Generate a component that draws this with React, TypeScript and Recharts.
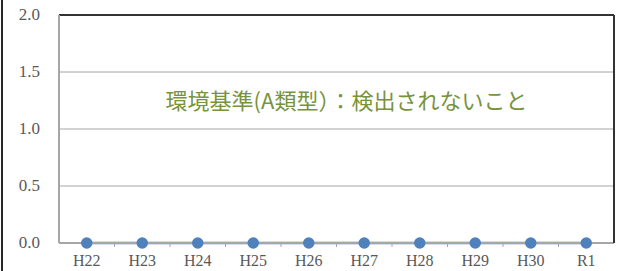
import { LineChart, Line, XAxis, YAxis, CartesianGrid, ReferenceLine } from 'recharts'

// 年度と検出値（すべて不検出 = 0）
const NENDO = ['H22', 'H23', 'H24', 'H25', 'H26', 'H27', 'H28', 'H29', 'H30', 'R1']
const KENSHUTSU = [0, 0, 0, 0, 0, 0, 0, 0, 0, 0]
const Y_TICKS = [0, 0.5, 1.0, 1.5, 2.0]
const KIJUN_TEXT = '環境基準(A類型）：検出されないこと'

const data = NENDO.map((n, i) => ({ nendo: n, value: KENSHUTSU[i] }))

const W = 620
const H = 271
const SERIF = '"Liberation Serif", "DejaVu Serif", serif'

// カテゴリ境界の内向き目盛り付きラベル
function XTick(props: any) {
  const { x, y, payload, index } = props
  const band = (W - 59 - 6) / NENDO.length
  return (
    <g>
      <text x={x} y={y + 15} textAnchor="middle" fontFamily={SERIF} fontSize={16} fill="#595959">
        {payload.value}
      </text>
      {index < NENDO.length - 1 && (
        <line x1={x + band / 2} x2={x + band / 2} y1={y - 9} y2={y - 4} stroke="#a6a6a6" />
      )}
    </g>
  )
}

function YTick(props: any) {
  const { x, y, payload } = props
  return (
    <text x={x} y={y} dy={5} textAnchor="end" fontFamily={SERIF} fontSize={17} fontWeight="normal" fill="#595959">
      {Number(payload.value).toFixed(1)}
    </text>
  )
}

export default function App() {
  return (
    <div style={{ position: 'absolute', left: 0, top: 0, width: W, height: H, background: '#fff' }}>
      <div style={{ position: 'absolute', left: 1, top: 0, width: 2, height: H, background: '#262626' }} />
      <LineChart width={W} height={H} data={data} margin={{ top: 14, right: 5, bottom: 0, left: 0 }}>
        <CartesianGrid vertical={false} stroke="#a6a6a6" />
        <XAxis dataKey="nendo" scale="band" height={28} tickLine={false} axisLine={{ stroke: '#a6a6a6', strokeWidth: 2 }} tick={<XTick />} interval={0} />
        <XAxis xAxisId="top" dataKey="nendo" scale="band" orientation="top" height={1} tick={false} tickLine={false} axisLine={{ stroke: '#333', strokeWidth: 2 }} />
        <YAxis
          domain={[0, 2]}
          ticks={Y_TICKS}
          width={59}
          tickLine={false}
          tickSize={0}
          tickMargin={19}
          axisLine={{ stroke: '#a6a6a6', strokeWidth: 2 }}
          tick={<YTick />}
        />
        <YAxis yAxisId="r" orientation="right" width={1} domain={[0, 2]} tick={false} tickLine={false} axisLine={{ stroke: '#333', strokeWidth: 2 }} />
        <ReferenceLine
          y={1.245}
          stroke="none"
          label={{
            value: KIJUN_TEXT,
            position: 'center',
            dx: 10,
            fill: '#77933c',
            fontSize: 22,
            fontFamily: '"Noto Sans CJK JP", sans-serif',
          }}
        />
        <Line
          dataKey="value"
          stroke="#4f81bd"
          strokeWidth={2.5}
          dot={{ r: 4.5, fill: '#4f81bd', stroke: '#4f81bd' }}
          isAnimationActive={false}
        />
      </LineChart>
    </div>
  )
}
